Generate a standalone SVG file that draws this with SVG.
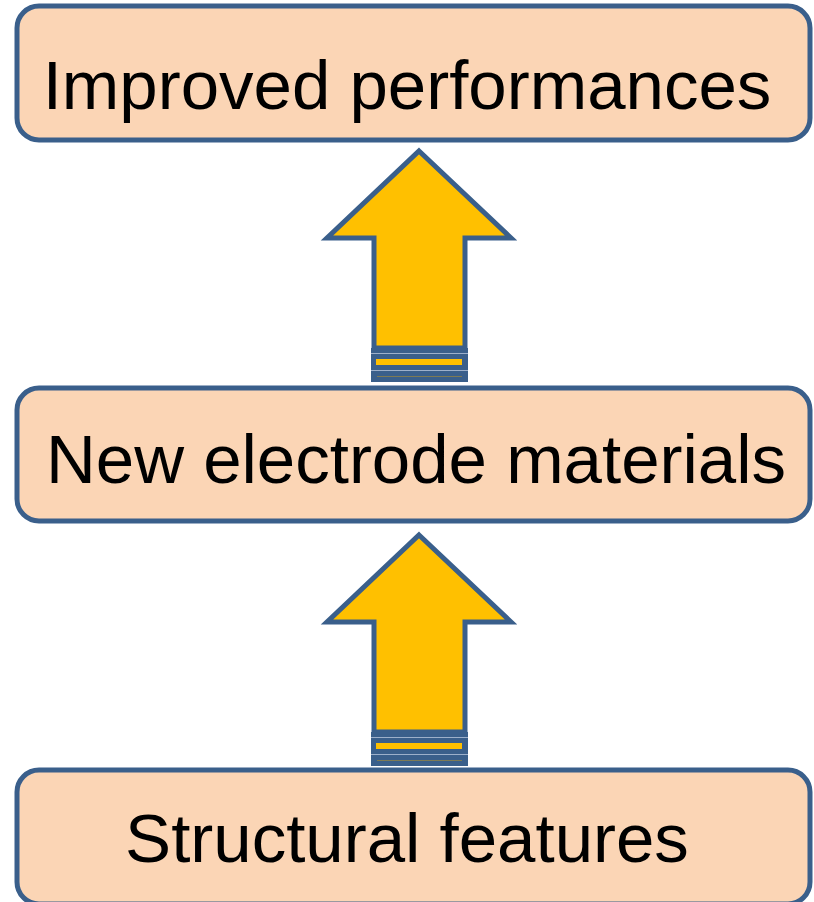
<svg xmlns="http://www.w3.org/2000/svg" width="814" height="902" viewBox="0 0 814 902">
<style>
.box{fill:#FBD5B5;stroke:#3A5F8B;stroke-width:5}
.lbl{font-family:"Liberation Sans",Arial,sans-serif;font-size:69px;fill:#000;text-anchor:middle}
.arrow{fill:#FFC000;stroke:#3A5F8B;stroke-width:5;stroke-linejoin:miter}
.band{fill:#3A5F8B}
.bar{fill:#FFC000}
.hl{stroke:#9DB0CB;stroke-width:1}
.ol{stroke:#7D7A55;stroke-width:1.2}
</style>
<defs>
<g id="striped">
<path class="arrow" d="M419,151 L511,238 L465,238 L465,348 L374,348 L374,238 L327,238 Z"/>
<rect class="band" x="371" y="348" width="97" height="34"/>
<line class="hl" x1="371" y1="353.5" x2="468" y2="353.5"/>
<rect class="bar" x="376" y="359" width="86" height="6"/>
<line class="hl" x1="371" y1="370.5" x2="468" y2="370.5"/>
<line class="ol" x1="377" y1="376.5" x2="462" y2="376.5"/>
</g>
</defs>
<g id="connectors">
<use href="#striped"/>
<use href="#striped" y="384"/>
</g>
<g id="node-improved">
<rect class="box" x="17" y="6" width="793" height="134" rx="22"/>
<text class="lbl" x="407" y="109">Improved performances</text>
</g>
<g id="node-materials">
<rect class="box" x="17" y="388" width="793" height="133" rx="22"/>
<text class="lbl" x="416" y="483">New electrode materials</text>
</g>
<g id="node-structural">
<rect class="box" x="17" y="770" width="793" height="134" rx="22"/>
<text class="lbl" x="407" y="862">Structural features</text>
</g>
</svg>
